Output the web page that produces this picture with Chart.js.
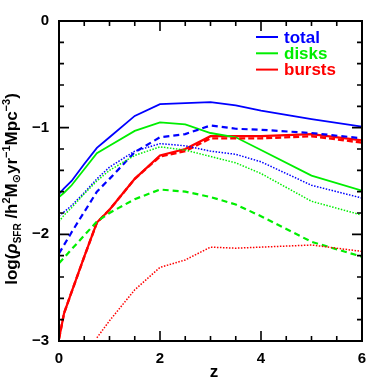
<!DOCTYPE html>
<html>
<head>
<meta charset="utf-8">
<script src="https://cdn.jsdelivr.net/npm/chart.js@4.4.1/dist/chart.umd.min.js"></script>
<style>
html,body{margin:0;padding:0;background:#fff;}
#wrap{width:382px;height:382px;}
</style>
</head>
<body>
<div id="wrap"><canvas id="c" width="382" height="382"></canvas></div>
<script>
// redshift sample points
const z = [0, 0.1, 0.25, 0.5, 0.75, 1, 1.5, 2, 2.5, 3, 3.5, 4, 5, 6];
// solid lines
const totalSolid  = [-1.62,-1.57,-1.50,-1.34,-1.19,-1.09,-0.89,-0.78,-0.77,-0.76,-0.79,-0.84,-0.92,-0.99];
const disksSolid  = [-1.65,-1.61,-1.54,-1.39,-1.24,-1.17,-1.03,-0.95,-0.97,-1.05,-1.09,-1.21,-1.45,-1.59];
const burstsSolid = [-2.98,-2.74,-2.54,-2.21,-1.89,-1.77,-1.48,-1.26,-1.20,-1.08,-1.08,-1.08,-1.06,-1.12];
// dashed lines
const totalDashed  = [-2.18,-2.10,-1.98,-1.79,-1.60,-1.48,-1.23,-1.09,-1.06,-0.98,-1.01,-1.02,-1.05,-1.10];
const disksDashed  = [-2.27,-2.22,-2.14,-2.01,-1.88,-1.80,-1.67,-1.58,-1.60,-1.65,-1.72,-1.83,-2.07,-2.21];
const burstsDashed = [-2.98,-2.74,-2.54,-2.21,-1.89,-1.77,-1.48,-1.27,-1.22,-1.10,-1.10,-1.10,-1.08,-1.14];
// dotted lines
const totalDotted  = [-1.83,-1.79,-1.73,-1.61,-1.48,-1.37,-1.22,-1.15,-1.17,-1.22,-1.25,-1.32,-1.54,-1.66];
const disksDotted  = [-1.88,-1.82,-1.75,-1.62,-1.50,-1.40,-1.26,-1.18,-1.21,-1.27,-1.33,-1.43,-1.69,-1.82];
const burstsDotted = [null,null,null,null,-2.97,-2.81,-2.52,-2.31,-2.24,-2.12,-2.13,-2.12,-2.10,-2.16];
// axis ticks
const xMajorTicks = [0, 2, 4, 6];
const yMajorTicks = [-3, -2, -1, 0];
const legendLabels = ['total', 'disks', 'bursts'];

const BLUE = '#0000ff', GREEN = '#00ee00', RED = '#ff0000';
const legendColors = [BLUE, GREEN, RED];

function pts(arr){ return z.map((x,i)=>({x:x, y:arr[i]})); }
function ds(arr, color, dash, width){
  return {data: pts(arr), borderColor: color, borderWidth: width, borderDash: dash,
          pointRadius: 0, fill: false, tension: 0, spanGaps: false};
}

const FONT = '"Liberation Sans", "DejaVu Sans", Arial, sans-serif';

const decor = {
  id: 'decor',
  afterDatasetsDraw(chart){
    const ctx = chart.ctx, a = chart.chartArea;
    const xs = chart.scales.x, ys = chart.scales.y;
    ctx.save();
    ctx.strokeStyle = '#000';
    ctx.lineWidth = 2;
    ctx.strokeRect(a.left, a.top, a.right - a.left, a.bottom - a.top);
    ctx.lineWidth = 1.6;
    ctx.beginPath();
    for (let v = 0; v <= 6.001; v += 0.5){
      const px = xs.getPixelForValue(v);
      const L = xMajorTicks.some(t=>Math.abs(t-v)<1e-6) ? 10 : 5;
      ctx.moveTo(px, a.bottom); ctx.lineTo(px, a.bottom - L);
      ctx.moveTo(px, a.top); ctx.lineTo(px, a.top + L);
    }
    for (let k = 0; k <= 15; k++){
      const v = -3 + k*0.2;
      const py = ys.getPixelForValue(v);
      const L = yMajorTicks.some(t=>Math.abs(t-v)<1e-6) ? 10 : 5;
      ctx.moveTo(a.left, py); ctx.lineTo(a.left + L, py);
      ctx.moveTo(a.right, py); ctx.lineTo(a.right - L, py);
    }
    ctx.stroke();

    // legend
    ctx.font = 'bold 17px ' + FONT;
    ctx.textBaseline = 'middle';
    ctx.textAlign = 'left';
    legendLabels.forEach((t,i)=>{
      const y = 37 + i*16.3;
      ctx.strokeStyle = legendColors[i];
      ctx.lineWidth = 2;
      ctx.beginPath(); ctx.moveTo(256, y); ctx.lineTo(278, y); ctx.stroke();
      ctx.fillStyle = legendColors[i];
      ctx.fillText(t, 284, y + 1);
    });

    // x title
    ctx.fillStyle = '#000';
    ctx.font = 'bold 17px ' + FONT;
    ctx.textAlign = 'center';
    ctx.textBaseline = 'alphabetic';
    ctx.fillText('z', 214, 377);

    // y title (rotated, with sub/superscripts)
    const big = 17, small = 11;
    const segs = [
      {t:'log(', f:'bold '+big+'px '+FONT, dy:0},
      {t:'\u03c1', f:'italic bold '+big+'px '+FONT, dy:0},
      {t:'SFR', f:'bold '+(small-1)+'px '+FONT, dy:4},
      {t:' /h', f:'bold '+big+'px '+FONT, dy:0},
      {t:'2', f:'bold '+small+'px '+FONT, dy:-7},
      {t:'M', f:'bold '+big+'px '+FONT, dy:0},
      {t:'\u2299', f:'bold '+small+'px "DejaVu Sans", '+FONT, dy:3},
      {t:'yr', f:'bold '+big+'px '+FONT, dy:0},
      {t:'\u22121', f:'bold '+small+'px '+FONT, dy:-7},
      {t:'Mpc', f:'bold '+big+'px '+FONT, dy:0},
      {t:'\u22123', f:'bold '+small+'px '+FONT, dy:-7},
      {t:')', f:'bold '+big+'px '+FONT, dy:0}
    ];
    let total = 0;
    segs.forEach(s=>{ ctx.font = s.f; s.w = ctx.measureText(s.t).width; total += s.w; });
    ctx.translate(17, 189);
    ctx.rotate(-Math.PI/2);
    let x0 = -total/2;
    ctx.textAlign = 'left';
    segs.forEach(s=>{ ctx.font = s.f; ctx.fillText(s.t, x0, s.dy); x0 += s.w; });
    ctx.restore();
  }
};

new Chart(document.getElementById('c'), {
  type: 'line',
  data: {
    datasets: [
      ds(burstsDotted, RED, [1.5,1.5], 1.5),
      ds(disksDotted, GREEN, [1.5,1.5], 1.5),
      ds(totalDotted, BLUE, [1.5,1.5], 1.5),
      ds(disksDashed, GREEN, [6,4], 2.2),
      ds(totalDashed, BLUE, [6,4], 2.2),
      ds(burstsDashed, RED, [6,3], 2.4),
      ds(disksSolid, GREEN, [], 1.8),
      ds(totalSolid, BLUE, [], 1.8),
      ds(burstsSolid, RED, [], 2.2)
    ]
  },
  options: {
    responsive: false,
    animation: false,
    devicePixelRatio: 1,
    layout: {padding: {top: 21, right: 20, left: 0, bottom: 0}},
    plugins: {legend: {display: false}, tooltip: {enabled: false}},
    scales: {
      x: {
        type: 'linear', min: 0, max: 6,
        grid: {display: false, drawTicks: false},
        border: {display: false},
        afterFit(s){ s.height = 41; },
        afterBuildTicks(s){ s.ticks = xMajorTicks.map(v=>({value:v})); },
        ticks: {padding: 9, color: '#000', font: {family: FONT, weight: 'bold', size: 15},
                callback: v => String(v), maxRotation: 0}
      },
      y: {
        type: 'linear', min: -3, max: 0,
        grid: {display: false, drawTicks: false},
        border: {display: false},
        afterFit(s){ s.width = 59; },
        afterBuildTicks(s){ s.ticks = yMajorTicks.map(v=>({value:v})); },
        ticks: {padding: 10, color: '#000', font: {family: FONT, weight: 'bold', size: 15},
                callback: v => v === 0 ? '0' : '\u2212' + Math.abs(v)}
      }
    }
  },
  plugins: [decor]
});
</script>
</body>
</html>
